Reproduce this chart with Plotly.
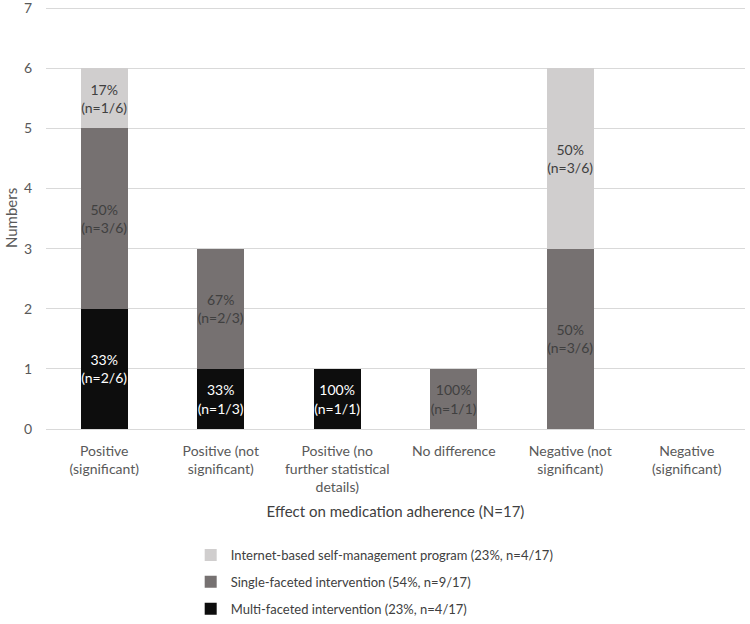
import plotly.graph_objects as go

categories = ["Positive<br>(significant)", "Positive (not<br>significant)",
              "Positive (no<br>further statistical<br>details)", "No difference",
              "Negative (not<br>significant)", "Negative<br>(significant)"]

multi_vals = [2, 1, 1, 0, 0, 0]
single_vals = [3, 2, 0, 1, 3, 0]
internet_vals = [1, 0, 0, 0, 3, 0]

multi_text = ["33%<br>(n=2/6)", "33%<br>(n=1/3)", "100%<br>(n=1/1)", "", "", ""]
single_text = ["50%<br>(n=3/6)", "67%<br>(n=2/3)", "", "100%<br>(n=1/1)", "50%<br>(n=3/6)", ""]
internet_text = ["17%<br>(n=1/6)", "", "", "", "50%<br>(n=3/6)", ""]

y_ticks = [0, 1, 2, 3, 4, 5, 6, 7]

names = ["Multi-faceted intervention (23%, n=4/17)",
         "Single-faceted intervention (54%, n=9/17)",
         "Internet-based self-management program (23%, n=4/17)"]

FONT = "Lato"
fig = go.Figure()
specs = [(multi_vals, multi_text, names[0], "#0d0d0d", "white", 3),
         (single_vals, single_text, names[1], "#767171", "#404040", 2),
         (internet_vals, internet_text, names[2], "#d0cece", "#404040", 1)]
for i, (v, t, n, c, tc, rank) in enumerate(specs):
    fig.add_trace(go.Bar(
        x=categories, y=v, name=n, text=t, texttemplate="%{text}",
        textposition="inside", insidetextanchor="middle", textangle=0,
        constraintext="none",
        textfont=dict(family=FONT, size=14, color=tc),
        marker=dict(color=c, line=dict(width=0)),
        legendgroup=f"g{i}", legendrank=rank,
    ))

fig.update_layout(
    barmode="stack", bargap=0.6,
    width=750, height=624,
    margin=dict(l=46, r=5, t=7, b=195),
    plot_bgcolor="white", paper_bgcolor="white",
    font=dict(family=FONT, size=14, color="#595959"),
    showlegend=True,
    legend=dict(orientation="v", x=0.207, xanchor="left",
                yref="container", y=0.0, yanchor="bottom",
                traceorder="grouped", tracegroupgap=7,
                font=dict(family=FONT, size=13, color="#404040")),
    xaxis=dict(title=dict(text="Effect on medication adherence (N=17)",
                          font=dict(size=15, color="#404040"), standoff=12),
               tickfont=dict(size=14, color="#595959"), showline=False,
               ticks="", ticklabelstandoff=12, automargin=False),
    yaxis=dict(title=dict(text="Numbers", font=dict(size=15, color="#595959"), standoff=2),
               range=[0, 7.02], tickvals=y_ticks,
               gridcolor="#d9d9d9", gridwidth=1,
               zeroline=True, zerolinecolor="#d9d9d9", zerolinewidth=1,
               tickfont=dict(size=14, color="#595959"),
               ticks="outside", ticklen=10, tickcolor="rgba(0,0,0,0)",
               ticklabeloverflow="allow", automargin=False),
)

fig.write_html("out.html", config={"displayModeBar": False},
               post_script="document.body.style.margin='0';")
